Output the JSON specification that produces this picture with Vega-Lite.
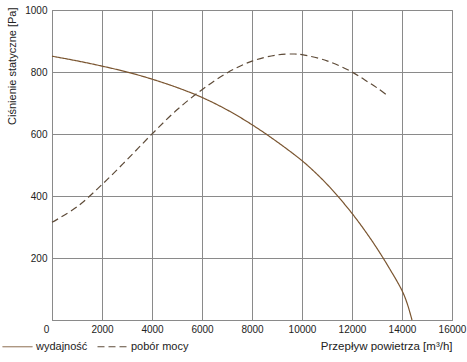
{
  "$schema": "https://vega.github.io/schema/vega-lite/v6.json",
  "autosize": "none",
  "width": 400,
  "height": 310,
  "padding": {"left": 52, "top": 10, "right": 15, "bottom": 42},
  "background": "white",
  "config": {
    "font": "Liberation Sans",
    "view": {"stroke": "#8a8a8a", "strokeWidth": 1},
    "axis": {
      "grid": true,
      "gridColor": "#8a8a8a",
      "gridOpacity": 1,
      "gridWidth": 1,
      "domainColor": "#8a8a8a",
      "domainWidth": 1,
      "ticks": false,
      "labelFont": "Liberation Sans",
      "labelFontSize": 10,
      "labelColor": "#222",
      "titleFont": "Liberation Sans",
      "titleFontSize": 11,
      "titleFontWeight": "normal",
      "titleColor": "#222"
    },
    "legend": {
      "orient": "none",
      "direction": "horizontal",
      "legendX": -50,
      "legendY": 321,
      "symbolType": "stroke",
      "symbolSize": 900,
      "symbolStrokeWidth": 1,
      "labelFont": "Liberation Sans",
      "labelFontSize": 11,
      "labelColor": "#222",
      "labelOffset": 3,
      "columnPadding": 7
    }
  },
  "data": {
    "values": [
      {"x": 0, "y": 851, "s": "wydajność"},
      {"x": 1000, "y": 836, "s": "wydajność"},
      {"x": 2000, "y": 819, "s": "wydajność"},
      {"x": 3000, "y": 800, "s": "wydajność"},
      {"x": 4000, "y": 777, "s": "wydajność"},
      {"x": 5000, "y": 750, "s": "wydajność"},
      {"x": 6000, "y": 718, "s": "wydajność"},
      {"x": 7000, "y": 678, "s": "wydajność"},
      {"x": 8000, "y": 630, "s": "wydajność"},
      {"x": 9000, "y": 575, "s": "wydajność"},
      {"x": 10000, "y": 514, "s": "wydajność"},
      {"x": 10500, "y": 478, "s": "wydajność"},
      {"x": 11000, "y": 438, "s": "wydajność"},
      {"x": 11500, "y": 393, "s": "wydajność"},
      {"x": 12000, "y": 344, "s": "wydajność"},
      {"x": 12500, "y": 290, "s": "wydajność"},
      {"x": 13000, "y": 231, "s": "wydajność"},
      {"x": 13500, "y": 166, "s": "wydajność"},
      {"x": 14000, "y": 95, "s": "wydajność"},
      {"x": 14200, "y": 55, "s": "wydajność"},
      {"x": 14400, "y": 0, "s": "wydajność"},
      {"x": 0, "y": 315, "s": "pobór mocy"},
      {"x": 1000, "y": 365, "s": "pobór mocy"},
      {"x": 2000, "y": 437, "s": "pobór mocy"},
      {"x": 3000, "y": 517, "s": "pobór mocy"},
      {"x": 4000, "y": 600, "s": "pobór mocy"},
      {"x": 5000, "y": 678, "s": "pobór mocy"},
      {"x": 6000, "y": 743, "s": "pobór mocy"},
      {"x": 7000, "y": 797, "s": "pobór mocy"},
      {"x": 8000, "y": 835, "s": "pobór mocy"},
      {"x": 9000, "y": 855, "s": "pobór mocy"},
      {"x": 9700, "y": 858, "s": "pobór mocy"},
      {"x": 10000, "y": 856, "s": "pobór mocy"},
      {"x": 11000, "y": 836, "s": "pobór mocy"},
      {"x": 12000, "y": 800, "s": "pobór mocy"},
      {"x": 12500, "y": 775, "s": "pobór mocy"},
      {"x": 13000, "y": 749, "s": "pobór mocy"},
      {"x": 13450, "y": 722, "s": "pobór mocy"}
    ]
  },
  "mark": {"type": "line", "interpolate": "catmull-rom", "strokeWidth": 1.2},
  "encoding": {
    "x": {
      "field": "x", "type": "quantitative",
      "scale": {"domain": [0, 16000], "nice": false},
      "axis": {
        "values": [0, 2000, 4000, 6000, 8000, 10000, 12000, 14000, 16000],
        "format": "d",
        "labelPadding": 4,
        "labelFlush": false,
        "labelOffset": {"condition": {"test": "datum.value === 0", "value": -6}, "value": 0},
        "title": "Przepływ powietrza [m³/h]",
        "titleFontSize": 11.5,
        "titleAnchor": "end",
        "titleBaseline": "middle",
        "titleY": 26
      }
    },
    "y": {
      "field": "y", "type": "quantitative",
      "scale": {"domain": [0, 1000], "nice": false},
      "axis": {
        "values": [200, 400, 600, 800, 1000],
        "format": "d",
        "labelPadding": 5,
        "labelFlush": false,
        "title": "Ciśnienie statyczne [Pa]",
        "titleAnchor": "end",
        "titleAlign": "right",
        "titleAngle": -90,
        "titleBaseline": "middle",
        "titleX": -40,
        "titleY": -3
      }
    },
    "color": {
      "field": "s", "type": "nominal",
      "scale": {"domain": ["wydajność", "pobór mocy"], "range": ["#7a5530", "#5e4b38"]},
      "legend": {"title": null}
    },
    "strokeDash": {
      "field": "s", "type": "nominal",
      "scale": {"domain": ["wydajność", "pobór mocy"], "range": [[1, 0], [7, 4]]},
      "legend": {"title": null}
    }
  }
}
